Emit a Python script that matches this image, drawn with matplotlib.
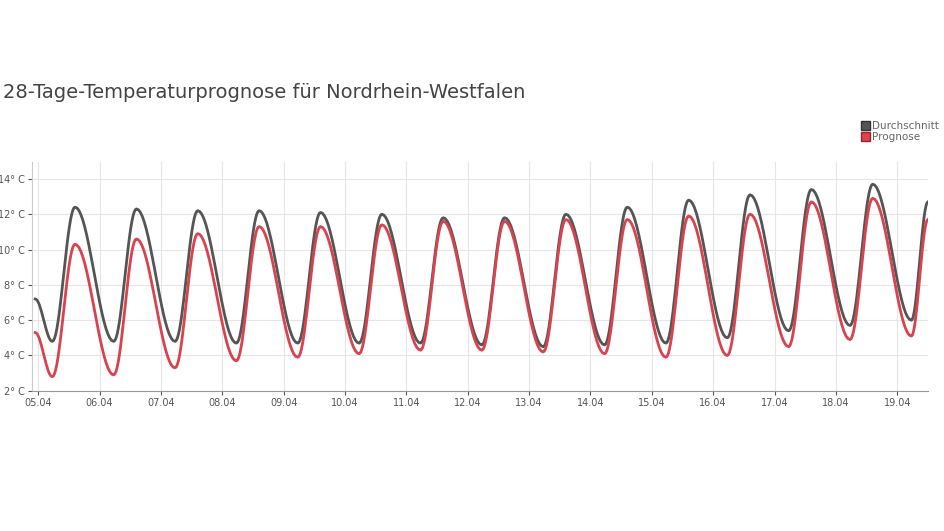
import numpy as np
import matplotlib
matplotlib.use("Agg")
import matplotlib.pyplot as plt
from matplotlib.patches import Patch

days = ["05.04","06.04","07.04","08.04","09.04","10.04","11.04","12.04","13.04","14.04","15.04","16.04","17.04","18.04","19.04"]
# extremes (alternating min/max per day)
avg_start = 7.2
avg_min = [4.8,4.8,4.8,4.7,4.7,4.7,4.7,4.6,4.5,4.6,4.7,5.0,5.4,5.7,6.0]
avg_max = [12.4,12.3,12.2,12.2,12.1,12.0,11.8,11.8,12.0,12.4,12.8,13.1,13.4,13.7]
avg_end = 12.7
fc_start = 5.3
fc_min = [2.8,2.9,3.3,3.7,3.9,4.1,4.3,4.3,4.2,4.1,3.9,4.0,4.5,4.9,5.1]
fc_max = [10.3,10.6,10.9,11.3,11.3,11.4,11.6,11.6,11.7,11.7,11.9,12.0,12.7,12.9]
fc_end = 11.7

def curve(start, mins, maxs, end):
    t = [-0.05]; v = [start]
    for i in range(len(mins)):
        t.append(i + 0.23); v.append(mins[i])
        if i < len(maxs):
            t.append(i + 0.6); v.append(maxs[i])
    t.append(14.5); v.append(end)
    xs, ys = [], []
    for k in range(len(t) - 1):
        s = np.linspace(0, 1, 20, endpoint=False)
        w = (1 - np.cos(np.pi * s)) / 2
        xs.extend(t[k] + (t[k+1] - t[k]) * s)
        ys.extend(v[k] + (v[k+1] - v[k]) * w)
    xs.append(t[-1]); ys.append(v[-1])
    return xs, ys

fig = plt.figure(figsize=(9.44, 5.31), dpi=100)
ax = fig.add_axes([0.034, 0.264, 0.949, 0.431])
x1, y1 = curve(avg_start, avg_min, avg_max, avg_end)
x2, y2 = curve(fc_start, fc_min, fc_max, fc_end)
ax.plot(x1, y1, color="#555555", lw=2, label="Durchschnitt")
ax.plot(x2, y2, color="#d9434e", lw=2, label="Prognose")
ax.set_xlim(-0.1, 14.5)
ax.set_ylim(2, 14.96)
ax.set_yticks([2,4,6,8,10,12,14])
ax.set_yticklabels([f"{v}° C" for v in [2,4,6,8,10,12,14]])
ax.set_xticks(range(len(days)))
ax.set_xticklabels(days)
ax.grid(True, color="#e6e6e6", lw=0.8)
ax.tick_params(colors="#555555", labelsize=7, length=3, pad=2)
for s in ["top","right"]:
    ax.spines[s].set_visible(False)
ax.spines["left"].set_color("#cccccc")
ax.spines["bottom"].set_color("#999999")
fig.text(0.003, 0.825, "28-Tage-Temperaturprognose für Nordrhein-Westfalen", fontsize=14, color="#444444", va="center")
fig.legend(handles=[Patch(facecolor="#555555", edgecolor="#333333", label="Durchschnitt"),
                    Patch(facecolor="#d9434e", edgecolor="#a02030", label="Prognose")],
           loc="upper right", bbox_to_anchor=(1.005, 0.79), frameon=False, fontsize=7.5,
           handlelength=0.9, handleheight=0.9, handletextpad=0.2, labelspacing=0.1,
           labelcolor="#666666")
fig.savefig("out.png", dpi=100)
